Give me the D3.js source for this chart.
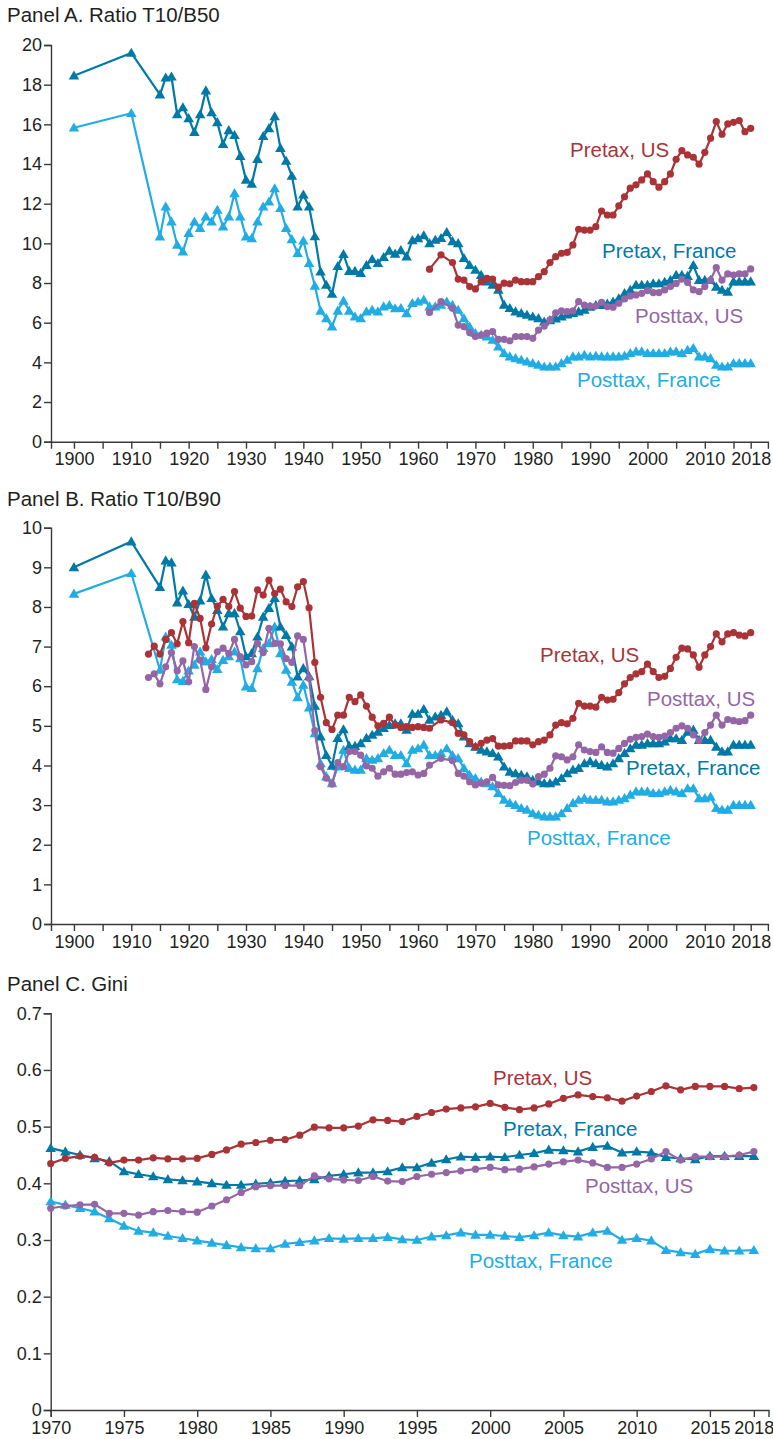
<!DOCTYPE html>
<html>
<head>
<meta charset="utf-8">
<script src="https://cdn.jsdelivr.net/npm/d3@7"></script>
<style>
  body { margin: 0; background: #fff; }
  svg { display: block; font-family: "Liberation Sans", Arial, Helvetica, sans-serif; }
</style>
</head>
<body>
<svg id="chart" width="773" height="1439"></svg>
<script>
// ---- years (x categories) ----
const yearsFrance = [1900, 1910].concat(d3.range(1915, 2019));
const yearsUsA = [1962, 1964].concat(d3.range(1966, 2019));
const yearsUsB = d3.range(1913, 1963).concat([1964], d3.range(1966, 2019));
const yearsGini = d3.range(1970, 2019);

// ---- Panel A: ratio T10/B50 ----
const pretaxFranceA = [18.45, 19.6,
  17.5, 18.35, 18.4, 16.5, 16.85, 16.3, 15.6, 16.5, 17.7, 16.6,   // 1915-1924
  16.1, 15.0, 15.7, 15.45, 14.4, 13.2, 13.0, 14.25, 15.4, 15.8,   // 1925-1934
  16.4, 14.8, 14.15, 13.4, 11.85, 12.45, 11.85, 10.35, 8.57, 7.9, // 1935-1944
  7.45, 8.85, 9.45, 8.6, 8.6, 8.5, 8.9, 9.2, 9.0, 9.3,            // 1945-1954
  9.62, 9.47, 9.65, 9.33, 10.15, 10.25, 10.4, 10.0, 10.17, 10.26, // 1955-1964
  10.56, 10.1, 10.0, 9.25, 8.9, 8.66, 8.4, 8.07, 7.9, 7.65,       // 1965-1974
  6.9, 6.73, 6.56, 6.47, 6.39, 6.3, 6.22, 6.05, 6.12, 6.2,        // 1975-1984
  6.3, 6.4, 6.48, 6.56, 6.64, 6.8, 6.88, 6.88, 6.95, 7.05,        // 1985-1994
  7.22, 7.48, 7.65, 7.9, 7.9, 7.9, 7.98, 7.98, 8.05, 8.15,        // 1995-2004
  8.4, 8.4, 8.35, 8.9, 8.15, 8.15, 8.15, 7.8, 7.65, 7.55,         // 2005-2014
  8.07, 8.07, 8.07, 8.07];                                        // 2015-2018
const posttaxFranceA = [15.83, 16.56,
  10.34, 11.85, 11.09, 9.92, 9.58, 10.51, 11.09, 10.76, 11.35, 11.09,
  11.68, 10.84, 11.35, 12.52, 11.35, 10.34, 10.25, 11.09, 11.85, 12.1,
  12.77, 11.77, 10.76, 10.2, 9.5, 10.13, 9.0, 7.86, 6.6, 6.22,
  5.8, 6.6, 7.1, 6.6, 6.3, 6.22, 6.56, 6.64, 6.56, 6.81,
  6.88, 6.72, 6.73, 6.47, 6.98, 7.06, 7.15, 6.81, 6.81, 6.9,
  7.06, 6.89, 6.64, 6.22, 5.8, 5.47, 5.38, 5.3, 5.13, 4.79,
  4.46, 4.29, 4.2, 4.12, 4.03, 3.95, 3.87, 3.78, 3.78, 3.78,
  3.95, 4.12, 4.29, 4.29, 4.37, 4.29, 4.33, 4.29, 4.29, 4.29,
  4.29, 4.33, 4.46, 4.54, 4.54, 4.46, 4.46, 4.46, 4.46, 4.54,
  4.54, 4.46, 4.62, 4.71, 4.29, 4.29, 4.2, 3.87, 3.78, 3.78,
  3.95, 3.95, 3.95, 3.95];
const pretaxUsA = [8.7, 9.42,
  9.03, 8.2, 8.15, 7.82, 7.7, 8.07, 8.24, 8.2, 7.79, 7.99,        // 1966-1975
  7.96, 8.15, 8.07, 8.07, 8.07, 8.32, 8.57, 9.03, 9.33, 9.5,      // 1976-1985
  9.54, 9.92, 10.71, 10.67, 10.67, 10.84, 11.63, 11.43, 11.43, 11.89,
  12.35, 12.78, 12.95, 13.2, 13.5, 13.11, 12.83, 13.11, 13.5, 14.24,
  14.67, 14.46, 14.34, 13.99, 14.59, 15.3, 16.14, 15.5, 16.02, 16.1,
  16.19, 15.63, 15.8];
const posttaxUsA = [6.52, 7.06,
  6.73, 5.88, 5.8, 5.5, 5.3, 5.38, 5.47, 5.55, 5.16, 5.16,
  5.09, 5.3, 5.3, 5.3, 5.21, 5.63, 5.83, 6.14, 6.5, 6.6,
  6.56, 6.6, 7.06, 6.89, 6.84, 6.84, 7.03, 6.81, 6.78, 6.98,
  7.2, 7.35, 7.4, 7.48, 7.62, 7.52, 7.52, 7.65, 7.82, 7.98,
  8.19, 8.03, 7.65, 7.57, 7.82, 8.15, 8.78, 8.15, 8.46, 8.4,
  8.46, 8.46, 8.71];

// ---- Panel B: ratio T10/B90 ----
const pretaxFranceB = [9.0, 9.65,
  8.5, 9.17, 9.12, 8.11, 8.41, 8.07, 7.75, 8.16, 8.81, 8.22,
  7.92, 7.5, 7.84, 7.84, 7.38, 6.75, 6.83, 7.25, 7.75, 7.97,
  8.22, 7.5, 7.29, 7.0, 6.24, 6.45, 6.25, 5.5, 4.73, 4.26,
  3.99, 4.69, 4.91, 4.49, 4.49, 4.56, 4.69, 4.77, 4.85, 4.94,
  5.02, 5.06, 5.06, 4.9, 5.3, 5.3, 5.42, 5.15, 5.23, 5.27,
  5.36, 5.15, 5.06, 4.73, 4.56, 4.47, 4.39, 4.35, 4.31, 4.22,
  3.97, 3.84, 3.8, 3.76, 3.72, 3.63, 3.59, 3.55, 3.55, 3.59,
  3.68, 3.8, 3.89, 3.93, 4.05, 4.1, 4.05, 4.01, 3.97, 4.05,
  4.18, 4.31, 4.43, 4.52, 4.52, 4.56, 4.56, 4.56, 4.6, 4.68,
  4.68, 4.64, 4.85, 4.9, 4.64, 4.64, 4.64, 4.47, 4.35, 4.35,
  4.52, 4.52, 4.52, 4.52];
const posttaxFranceB = [8.33, 8.85,
  6.41, 7.25, 7.04, 6.17, 6.13, 6.39, 6.54, 6.87, 6.62, 6.68,
  6.43, 6.66, 6.75, 6.87, 6.7, 5.99, 5.95, 6.45, 6.96, 7.08,
  7.5, 6.83, 6.41, 6.11, 5.72, 6.03, 5.46, 4.81, 4.05, 3.72,
  3.55, 3.97, 4.39, 3.93, 3.89, 3.89, 4.18, 4.14, 4.18, 4.31,
  4.39, 4.26, 4.26, 4.05, 4.39, 4.43, 4.52, 4.26, 4.26, 4.31,
  4.43, 4.26, 4.18, 3.93, 3.76, 3.68, 3.59, 3.55, 3.47, 3.3,
  3.13, 3.05, 3.0, 2.92, 2.88, 2.79, 2.75, 2.71, 2.71, 2.71,
  2.79, 2.92, 3.05, 3.13, 3.17, 3.13, 3.13, 3.13, 3.09, 3.09,
  3.13, 3.17, 3.26, 3.34, 3.34, 3.34, 3.3, 3.3, 3.34, 3.38,
  3.34, 3.3, 3.42, 3.42, 3.17, 3.17, 3.21, 2.92, 2.88, 2.88,
  3.0, 3.0, 3.0, 3.0];
const pretaxUsB = [
  6.81, 7.01, 6.81, 7.18, 7.35, 7.07, 7.63, 7.1, 8.09, 7.71,      // 1913-1922
  6.97, 7.57, 8.02, 8.19, 8.01, 8.39, 7.97, 7.76, 7.77, 8.43,     // 1923-1932
  8.3, 8.68, 8.34, 8.45, 8.13, 8.01, 8.51, 8.64, 7.98, 6.6,       // 1933-1942
  5.72, 5.08, 4.91, 5.27, 5.27, 5.72, 5.61, 5.78, 5.5, 5.22,      // 1943-1952
  5.0, 5.06, 5.22, 5.02, 4.96, 4.98, 4.96, 4.98, 4.96, 4.94,      // 1953-1962
  5.15, 5.08, 4.81, 4.77, 4.6, 4.47, 4.56, 4.64, 4.68, 4.49,      // 1964, 1966-1974
  4.49, 4.5, 4.62, 4.62, 4.62, 4.52, 4.6, 4.64, 4.77, 5.02,       // 1975-1984
  5.08, 5.05, 5.19, 5.57, 5.5, 5.5, 5.47, 5.72, 5.65, 5.67,       // 1985-1994
  5.84, 6.06, 6.22, 6.31, 6.37, 6.56, 6.37, 6.22, 6.25, 6.45,     // 1995-2004
  6.73, 6.96, 6.94, 6.79, 6.48, 6.79, 7.0, 7.32, 7.12, 7.32,      // 2005-2014
  7.35, 7.29, 7.27, 7.35];                                        // 2015-2018
const posttaxUsB = [
  6.22, 6.31, 6.06, 6.49, 6.85, 6.39, 6.64, 6.11, 7.0, 6.66,
  5.92, 6.49, 6.87, 6.96, 6.83, 7.18, 6.75, 6.54, 6.62, 7.08,
  6.85, 7.46, 7.08, 7.07, 6.7, 6.6, 7.27, 7.18, 6.2, 4.88,
  3.97, 3.68, 3.53, 4.07, 3.97, 4.35, 4.35, 4.26, 3.99, 3.93,
  3.73, 3.84, 3.93, 3.78, 3.78, 3.82, 3.84, 3.76, 3.8, 4.01,
  4.18, 4.12, 3.8, 3.73, 3.59, 3.51, 3.55, 3.59, 3.7, 3.51,
  3.5, 3.49, 3.57, 3.63, 3.63, 3.53, 3.72, 3.78, 3.93, 4.24,
  4.22, 4.14, 4.22, 4.52, 4.39, 4.35, 4.33, 4.47, 4.33, 4.31,
  4.43, 4.56, 4.66, 4.71, 4.73, 4.79, 4.73, 4.71, 4.74, 4.83,
  4.94, 5.0, 4.94, 4.77, 4.63, 4.83, 5.02, 5.27, 5.02, 5.16,
  5.13, 5.11, 5.13, 5.27];

// ---- Panel C: Gini, 1970-2018 ----
const pretaxUsC = [
  0.435, 0.444, 0.448, 0.446, 0.436, 0.441, 0.441, 0.445, 0.443, 0.443,
  0.444, 0.451, 0.459, 0.469, 0.472, 0.476, 0.477, 0.485, 0.499, 0.498,
  0.498, 0.501, 0.512, 0.511, 0.509, 0.518, 0.525, 0.531, 0.533, 0.535,
  0.541, 0.534, 0.530, 0.533, 0.540, 0.550, 0.556, 0.553, 0.551, 0.545,
  0.554, 0.562, 0.572, 0.565, 0.571, 0.571, 0.571, 0.567, 0.569];
const pretaxFranceC = [
  0.462, 0.456, 0.450, 0.444, 0.439, 0.421, 0.416, 0.412, 0.407, 0.405,
  0.403, 0.400, 0.397, 0.397, 0.399, 0.401, 0.404, 0.405, 0.407, 0.413,
  0.416, 0.419, 0.419, 0.421, 0.428, 0.428, 0.436, 0.442, 0.447, 0.446,
  0.447, 0.446, 0.450, 0.453, 0.459, 0.458, 0.456, 0.464, 0.466, 0.454,
  0.456, 0.454, 0.446, 0.444, 0.442, 0.448, 0.448, 0.448, 0.448];
const posttaxUsC = [
  0.356, 0.360, 0.362, 0.363, 0.347, 0.347, 0.344, 0.350, 0.352, 0.350,
  0.349, 0.360, 0.371, 0.384, 0.394, 0.396, 0.396, 0.396, 0.413, 0.408,
  0.406, 0.405, 0.412, 0.404, 0.403, 0.412, 0.416, 0.419, 0.422, 0.425,
  0.428, 0.424, 0.425, 0.429, 0.434, 0.438, 0.441, 0.436, 0.428, 0.428,
  0.434, 0.443, 0.456, 0.441, 0.447, 0.447, 0.447, 0.450, 0.456];
const posttaxFranceC = [
  0.368, 0.362, 0.356, 0.350, 0.338, 0.325, 0.316, 0.313, 0.307, 0.303,
  0.299, 0.295, 0.291, 0.287, 0.285, 0.285, 0.293, 0.296, 0.299, 0.303,
  0.302, 0.303, 0.303, 0.305, 0.301, 0.300, 0.306, 0.308, 0.313, 0.309,
  0.309, 0.307, 0.305, 0.308, 0.313, 0.308, 0.306, 0.313, 0.316, 0.300,
  0.303, 0.299, 0.282, 0.278, 0.275, 0.284, 0.281, 0.281, 0.282];

// ---- ticks ----
const ticksA = [0, 2, 4, 6, 8, 10, 12, 14, 16, 18, 20];
const ticksB = [0, 1, 2, 3, 4, 5, 6, 7, 8, 9, 10];
const ticksC = [0, 0.1, 0.2, 0.3, 0.4, 0.5, 0.6, 0.7];
const yearTicksLong = d3.range(1900, 2016, 5).concat([2018]);
const yearLabelsLong = d3.range(1900, 2011, 10).concat([2018]);
const yearTicksGini = d3.range(1970, 2016, 5).concat([2018]);

const labelNames = ["Pretax, US", "Posttax, US", "Pretax, France", "Posttax, France"];

// ---- styles ----
const colors = {
  "Pretax, US": "#a93337",
  "Posttax, US": "#9566a6",
  "Pretax, France": "#0079a6",
  "Posttax, France": "#21ade3"
};
const markerOf = {
  "Pretax, US": "circle", "Posttax, US": "circle",
  "Pretax, France": "triangle", "Posttax, France": "triangle"
};
const drawOrder = ["Posttax, France", "Pretax, France", "Posttax, US", "Pretax, US"];

const zip = (xs, vs) => xs.map((yr, i) => ({ year: yr, value: vs[i] }));

const panels = [
  {
    title: "Panel A. Ratio T10/B50", titleY: 22,
    xDomain: [1896, 2021], xRange: [51, 767.9], xTicks: yearTicksLong, xLabels: yearLabelsLong,
    yDomain: [0, 20], yRange: [441.7, 45], yTicks: ticksA, yFormat: d => d,
    series: {
      "Posttax, France": zip(yearsFrance, posttaxFranceA),
      "Pretax, France": zip(yearsFrance, pretaxFranceA),
      "Posttax, US": zip(yearsUsA, posttaxUsA),
      "Pretax, US": zip(yearsUsA, pretaxUsA)
    },
    labels: { "Pretax, US": [570, 157], "Pretax, France": [602, 258], "Posttax, US": [635, 323], "Posttax, France": [577, 387] }
  },
  {
    title: "Panel B. Ratio T10/B90", titleY: 506,
    xDomain: [1896, 2021], xRange: [51, 767.9], xTicks: yearTicksLong, xLabels: yearLabelsLong,
    yDomain: [0, 10], yRange: [924, 527.7], yTicks: ticksB, yFormat: d => d,
    series: {
      "Posttax, France": zip(yearsFrance, posttaxFranceB),
      "Pretax, France": zip(yearsFrance, pretaxFranceB),
      "Posttax, US": zip(yearsUsB, posttaxUsB),
      "Pretax, US": zip(yearsUsB, pretaxUsB)
    },
    labels: { "Pretax, US": [540, 662], "Posttax, US": [647, 706], "Pretax, France": [626, 775], "Posttax, France": [527, 845] }
  },
  {
    title: "Panel C. Gini", titleY: 991,
    xDomain: [1970, 2019], xRange: [50.7, 768.5], xTicks: yearTicksGini, xLabels: yearTicksGini,
    yDomain: [0, 0.7], yRange: [1410, 1013.3], yTicks: ticksC, yFormat: d => d === 0 ? "0" : d3.format(".1f")(d),
    series: {
      "Posttax, France": zip(yearsGini, posttaxFranceC),
      "Pretax, France": zip(yearsGini, pretaxFranceC),
      "Posttax, US": zip(yearsGini, posttaxUsC),
      "Pretax, US": zip(yearsGini, pretaxUsC)
    },
    labels: { "Pretax, US": [493, 1085], "Pretax, France": [503, 1136], "Posttax, US": [585, 1193], "Posttax, France": [469, 1268] }
  }
];

const svg = d3.select("#chart");
const tri = d3.symbol().type(d3.symbolTriangle).size(48);

panels.forEach(p => {
  const x = d3.scaleLinear().domain(p.xDomain).range(p.xRange);
  const y = d3.scaleLinear().domain(p.yDomain).range(p.yRange);
  const g = svg.append("g");

  // titulo do painel
  g.append("text")
    .attr("x", 7).attr("y", p.titleY)
    .attr("font-size", 20.5).attr("fill", "#231f20")
    .text(p.title);

  // eixo x
  const xAxis = g.append("g")
    .attr("transform", `translate(0,${p.yRange[0]})`)
    .call(d3.axisBottom(x)
      .tickValues(p.xTicks)
      .tickFormat(d => p.xLabels.includes(d) ? d : "")
      .tickSizeOuter(0).tickSize(7).tickPadding(4));

  // eixo y
  const yAxis = g.append("g")
    .attr("transform", `translate(${p.xRange[0]},0)`)
    .call(d3.axisLeft(y)
      .tickValues(p.yTicks)
      .tickFormat(p.yFormat)
      .tickSizeOuter(0).tickSize(7).tickPadding(2));

  [xAxis, yAxis].forEach(a => {
    a.select(".domain").attr("stroke", "#3a3a3a").attr("stroke-width", 1.4);
    a.selectAll(".tick line").attr("stroke", "#3a3a3a").attr("stroke-width", 1.4);
    a.selectAll(".tick text").attr("fill", "#231f20").attr("font-size", 18)
      .attr("font-family", "'Liberation Sans', Arial, sans-serif");
  });

  const line = d3.line().x(d => x(d.year)).y(d => y(d.value));

  drawOrder.forEach(name => {
    const data = p.series[name];
    const c = colors[name];
    g.append("path")
      .datum(data)
      .attr("fill", "none")
      .attr("stroke", c)
      .attr("stroke-width", 2.2)
      .attr("stroke-linejoin", "round")
      .attr("d", line);

    if (markerOf[name] === "circle") {
      g.selectAll(null).data(data).enter().append("circle")
        .attr("cx", d => x(d.year)).attr("cy", d => y(d.value))
        .attr("r", 3.6).attr("fill", c);
    } else {
      g.selectAll(null).data(data).enter().append("path")
        .attr("d", tri)
        .attr("transform", d => `translate(${x(d.year)},${y(d.value) + 0.8})`)
        .attr("fill", c);
    }
  });

  // rotulos das series
  labelNames.forEach(name => {
    const pos = p.labels[name];
    g.append("text")
      .attr("x", pos[0]).attr("y", pos[1])
      .attr("font-size", 20.5)
      .attr("fill", colors[name])
      .text(name);
  });
});
</script>
</body>
</html>
